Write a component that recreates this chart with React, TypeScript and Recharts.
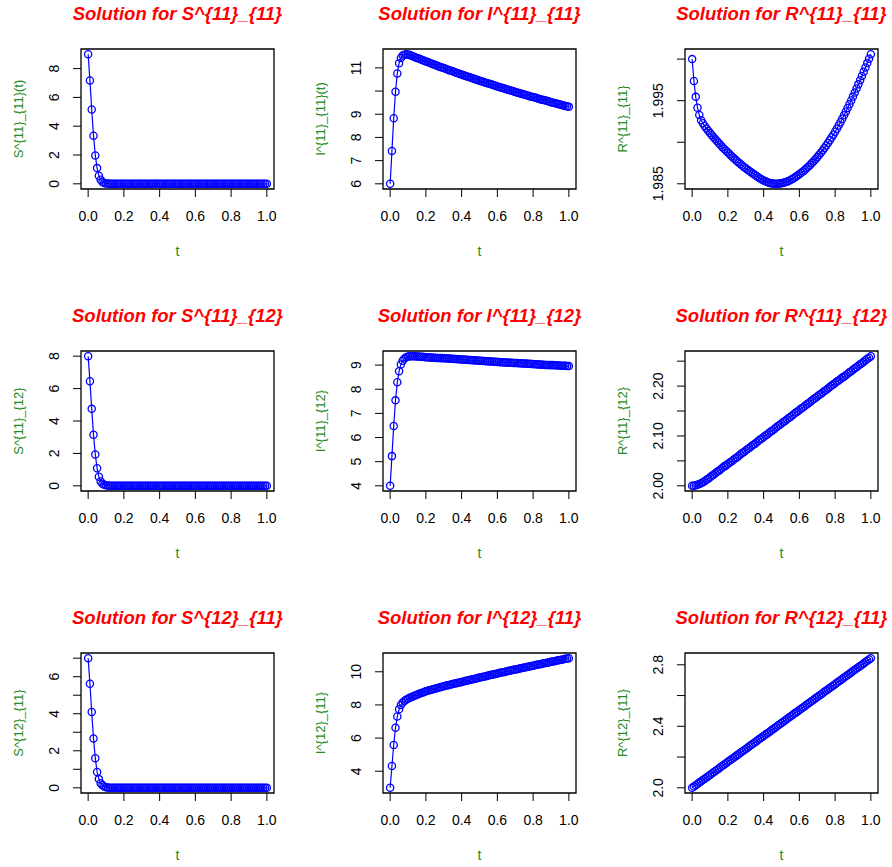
import React from "react";
import { LineChart, Line, XAxis, YAxis, ReferenceArea } from "recharts";

// time grid (step 0.01)
const T = [
  0, 0.01, 0.02, 0.03, 0.04, 0.05, 0.06, 0.07, 0.08, 0.09,
  0.1, 0.11, 0.12, 0.13, 0.14, 0.15, 0.16, 0.17, 0.18, 0.19,
  0.2, 0.21, 0.22, 0.23, 0.24, 0.25, 0.26, 0.27, 0.28, 0.29,
  0.3, 0.31, 0.32, 0.33, 0.34, 0.35, 0.36, 0.37, 0.38, 0.39,
  0.4, 0.41, 0.42, 0.43, 0.44, 0.45, 0.46, 0.47, 0.48, 0.49,
  0.5, 0.51, 0.52, 0.53, 0.54, 0.55, 0.56, 0.57, 0.58, 0.59,
  0.6, 0.61, 0.62, 0.63, 0.64, 0.65, 0.66, 0.67, 0.68, 0.69,
  0.7, 0.71, 0.72, 0.73, 0.74, 0.75, 0.76, 0.77, 0.78, 0.79,
  0.8, 0.81, 0.82, 0.83, 0.84, 0.85, 0.86, 0.87, 0.88, 0.89,
  0.9, 0.91, 0.92, 0.93, 0.94, 0.95, 0.96, 0.97, 0.98, 0.99,
  1,
];

const S11_11 = [
  9.0, 7.18, 5.16, 3.34, 1.97, 1.09, 0.56, 0.28, 0.13, 0.06,
  0.03, 0.015, 0.008, 0.004, 0.002, 0.001, 0.001, 0, 0, 0,
  0, 0, 0, 0, 0, 0, 0, 0, 0, 0,
  0, 0, 0, 0, 0, 0, 0, 0, 0, 0,
  0, 0, 0, 0, 0, 0, 0, 0, 0, 0,
  0, 0, 0, 0, 0, 0, 0, 0, 0, 0,
  0, 0, 0, 0, 0, 0, 0, 0, 0, 0,
  0, 0, 0, 0, 0, 0, 0, 0, 0, 0,
  0, 0, 0, 0, 0, 0, 0, 0, 0, 0,
  0, 0, 0, 0, 0, 0, 0, 0, 0, 0,
  0,
];

const I11_11 = [
  6.0, 7.42, 8.83, 9.97, 10.76, 11.2, 11.43, 11.53, 11.57, 11.59,
  11.58, 11.55, 11.52, 11.49, 11.46, 11.43, 11.4, 11.37, 11.34, 11.31,
  11.28, 11.25, 11.22, 11.19, 11.16, 11.13, 11.1, 11.07, 11.04, 11.02,
  10.99, 10.96, 10.93, 10.9, 10.88, 10.85, 10.82, 10.79, 10.77, 10.74,
  10.71, 10.68, 10.66, 10.63, 10.61, 10.58, 10.55, 10.53, 10.5, 10.48,
  10.45, 10.42, 10.4, 10.37, 10.35, 10.33, 10.3, 10.28, 10.25, 10.23,
  10.2, 10.18, 10.15, 10.13, 10.11, 10.08, 10.06, 10.04, 10.01, 9.99,
  9.96, 9.94, 9.92, 9.9, 9.87, 9.85, 9.83, 9.81, 9.78, 9.76,
  9.74, 9.72, 9.7, 9.67, 9.65, 9.63, 9.61, 9.59, 9.57, 9.55,
  9.52, 9.5, 9.48, 9.46, 9.44, 9.42, 9.4, 9.38, 9.36, 9.34,
  9.32,
];

const R11_11 = [
  2.0, 1.99737, 1.99546, 1.99415, 1.99328, 1.99264, 1.99228, 1.99195, 1.99165, 1.99137,
  1.9911, 1.99085, 1.9906, 1.99035, 1.99011, 1.98987, 1.98964, 1.98941, 1.98919, 1.98897,
  1.98876, 1.98855, 1.98834, 1.98814, 1.98794, 1.98775, 1.98756, 1.98738, 1.9872, 1.98703,
  1.98686, 1.9867, 1.98654, 1.98639, 1.98624, 1.98609, 1.98594, 1.98579, 1.98565, 1.98552,
  1.9854, 1.9853, 1.98521, 1.98514, 1.98508, 1.98504, 1.98501, 1.985, 1.98501, 1.98503,
  1.98507, 1.98512, 1.98518, 1.98526, 1.98535, 1.98545, 1.98557, 1.9857, 1.98584, 1.98599,
  1.98616, 1.98632, 1.98649, 1.98667, 1.98686, 1.98706, 1.98727, 1.98749, 1.98772, 1.98796,
  1.98821, 1.98847, 1.98874, 1.98902, 1.98931, 1.98961, 1.98992, 1.99024, 1.99057, 1.99091,
  1.99126, 1.99163, 1.99201, 1.99241, 1.99282, 1.99324, 1.99367, 1.99411, 1.99456, 1.99502,
  1.99549, 1.99597, 1.99646, 1.99696, 1.99746, 1.99797, 1.99848, 1.999, 1.99952, 2.00005,
  2.00059,
];

const S11_12 = [
  8.0, 6.45, 4.75, 3.15, 1.93, 1.08, 0.56, 0.27, 0.13, 0.06,
  0.03, 0.014, 0.007, 0.003, 0.002, 0.001, 0.001, 0, 0, 0,
  0, 0, 0, 0, 0, 0, 0, 0, 0, 0,
  0, 0, 0, 0, 0, 0, 0, 0, 0, 0,
  0, 0, 0, 0, 0, 0, 0, 0, 0, 0,
  0, 0, 0, 0, 0, 0, 0, 0, 0, 0,
  0, 0, 0, 0, 0, 0, 0, 0, 0, 0,
  0, 0, 0, 0, 0, 0, 0, 0, 0, 0,
  0, 0, 0, 0, 0, 0, 0, 0, 0, 0,
  0, 0, 0, 0, 0, 0, 0, 0, 0, 0,
  0,
];

const I11_12 = [
  4.0, 5.23, 6.48, 7.54, 8.29, 8.75, 9.03, 9.18, 9.27, 9.33,
  9.36, 9.37, 9.37, 9.37, 9.37, 9.36, 9.36, 9.35, 9.35, 9.34,
  9.33, 9.33, 9.32, 9.32, 9.31, 9.31, 9.3, 9.3, 9.29, 9.29,
  9.28, 9.28, 9.27, 9.27, 9.26, 9.26, 9.25, 9.25, 9.24, 9.24,
  9.23, 9.23, 9.22, 9.22, 9.21, 9.21, 9.2, 9.2, 9.19, 9.19,
  9.18, 9.18, 9.17, 9.17, 9.16, 9.16, 9.15, 9.15, 9.14, 9.14,
  9.13, 9.13, 9.12, 9.12, 9.11, 9.11, 9.11, 9.1, 9.1, 9.09,
  9.09, 9.09, 9.08, 9.08, 9.07, 9.07, 9.07, 9.06, 9.06, 9.05,
  9.05, 9.04, 9.04, 9.03, 9.03, 9.02, 9.02, 9.01, 9.01, 9.0,
  9.0, 9.0, 8.99, 8.99, 8.98, 8.98, 8.97, 8.97, 8.97, 8.96,
  8.96,
];

const R11_12 = [
  2.0, 2.0003, 2.001, 2.002, 2.0035, 2.005, 2.007, 2.009, 2.012, 2.014,
  2.017, 2.02, 2.022, 2.025, 2.028, 2.03, 2.033, 2.036, 2.039, 2.041,
  2.044, 2.047, 2.049, 2.052, 2.055, 2.057, 2.06, 2.063, 2.066, 2.068,
  2.071, 2.074, 2.076, 2.079, 2.082, 2.084, 2.087, 2.09, 2.093, 2.095,
  2.098, 2.101, 2.103, 2.106, 2.109, 2.111, 2.114, 2.117, 2.12, 2.122,
  2.125, 2.128, 2.13, 2.133, 2.136, 2.138, 2.141, 2.144, 2.147, 2.149,
  2.152, 2.155, 2.157, 2.16, 2.163, 2.165, 2.168, 2.171, 2.174, 2.176,
  2.179, 2.182, 2.184, 2.187, 2.19, 2.192, 2.195, 2.198, 2.201, 2.203,
  2.206, 2.209, 2.211, 2.214, 2.217, 2.219, 2.222, 2.225, 2.228, 2.23,
  2.233, 2.236, 2.238, 2.241, 2.244, 2.246, 2.249, 2.252, 2.255, 2.257,
  2.26,
];

const S12_11 = [
  7.0, 5.62, 4.09, 2.66, 1.6, 0.86, 0.47, 0.25, 0.14, 0.07,
  0.035, 0.017, 0.008, 0.004, 0.002, 0.001, 0.001, 0, 0, 0,
  0, 0, 0, 0, 0, 0, 0, 0, 0, 0,
  0, 0, 0, 0, 0, 0, 0, 0, 0, 0,
  0, 0, 0, 0, 0, 0, 0, 0, 0, 0,
  0, 0, 0, 0, 0, 0, 0, 0, 0, 0,
  0, 0, 0, 0, 0, 0, 0, 0, 0, 0,
  0, 0, 0, 0, 0, 0, 0, 0, 0, 0,
  0, 0, 0, 0, 0, 0, 0, 0, 0, 0,
  0, 0, 0, 0, 0, 0, 0, 0, 0, 0,
  0,
];

const I12_11 = [
  3.0, 4.32, 5.58, 6.62, 7.3, 7.74, 8.0, 8.14, 8.24, 8.32,
  8.38, 8.43, 8.48, 8.53, 8.57, 8.62, 8.66, 8.7, 8.74, 8.78,
  8.82, 8.85, 8.89, 8.92, 8.95, 8.98, 9.01, 9.04, 9.07, 9.1,
  9.13, 9.16, 9.18, 9.21, 9.23, 9.26, 9.29, 9.31, 9.34, 9.36,
  9.39, 9.42, 9.44, 9.47, 9.49, 9.52, 9.55, 9.57, 9.6, 9.62,
  9.65, 9.67, 9.7, 9.72, 9.75, 9.77, 9.8, 9.82, 9.85, 9.87,
  9.9, 9.92, 9.95, 9.97, 9.99, 10.02, 10.04, 10.07, 10.09, 10.12,
  10.14, 10.16, 10.19, 10.21, 10.23, 10.26, 10.28, 10.3, 10.32, 10.35,
  10.37, 10.39, 10.42, 10.44, 10.46, 10.49, 10.51, 10.53, 10.55, 10.58,
  10.6, 10.62, 10.64, 10.67, 10.69, 10.71, 10.73, 10.76, 10.78, 10.8,
  10.82,
];

const R12_11 = [
  2.0, 2.008, 2.017, 2.025, 2.034, 2.042, 2.051, 2.059, 2.067, 2.076,
  2.084, 2.093, 2.101, 2.11, 2.118, 2.126, 2.135, 2.143, 2.152, 2.16,
  2.169, 2.177, 2.185, 2.194, 2.202, 2.211, 2.219, 2.228, 2.236, 2.244,
  2.253, 2.261, 2.27, 2.278, 2.287, 2.295, 2.303, 2.312, 2.32, 2.329,
  2.337, 2.346, 2.354, 2.362, 2.371, 2.379, 2.388, 2.396, 2.405, 2.413,
  2.422, 2.43, 2.438, 2.447, 2.455, 2.464, 2.472, 2.481, 2.489, 2.497,
  2.506, 2.514, 2.523, 2.531, 2.54, 2.548, 2.556, 2.565, 2.573, 2.582,
  2.59, 2.599, 2.607, 2.615, 2.624, 2.632, 2.641, 2.649, 2.658, 2.666,
  2.674, 2.683, 2.691, 2.7, 2.708, 2.717, 2.725, 2.733, 2.742, 2.75,
  2.759, 2.767, 2.776, 2.784, 2.792, 2.801, 2.809, 2.818, 2.826, 2.835,
  2.843,
];

const X_TICKS = [0, 0.2, 0.4, 0.6, 0.8, 1.0];

// panel geometry (px): plot box 193 x 140 inside each chart
const ML = 80;
const MT = 50;
const MR = 10;
const XH = 75;
const BW = 193;
const BH = 140;
const PW = ML + BW + MR;
const PH = MT + BH + XH;
const FONT = "'Liberation Sans', Arial, Helvetica, sans-serif";
const GREEN = "#228B22";

const panels = [
  { title: "Solution for S^{11}_{11}", ylab: "S^{11}_{11}(t)", y: S11_11, dom: [-0.36, 9.36], ticks: [0, 2, 4, 6, 8], labels: ["0", "2", "4", "6", "8"] },
  { title: "Solution for I^{11}_{11}", ylab: "I^{11}_{11}(t)", y: I11_11, dom: [5.776, 11.814], ticks: [6, 7, 8, 9, 10, 11], labels: ["6", "7", "8", "9", "", "11"] },
  { title: "Solution for R^{11}_{11}", ylab: "R^{11}_{11}", y: R11_11, dom: [1.984376, 2.001214], ticks: [1.985, 1.99, 1.995, 2.0], labels: ["1.985", "", "1.995", ""] },
  { title: "Solution for S^{11}_{12}", ylab: "S^{11}_{12}", y: S11_12, dom: [-0.32, 8.32], ticks: [0, 2, 4, 6, 8], labels: ["0", "2", "4", "6", "8"] },
  { title: "Solution for I^{11}_{12}", ylab: "I^{11}_{12}", y: I11_12, dom: [3.785, 9.585], ticks: [4, 5, 6, 7, 8, 9], labels: ["4", "5", "6", "7", "8", "9"] },
  { title: "Solution for R^{11}_{12}", ylab: "R^{11}_{12}", y: R11_12, dom: [1.9896, 2.2704], ticks: [2.0, 2.05, 2.1, 2.15, 2.2, 2.25], labels: ["2.00", "", "2.10", "", "2.20", ""] },
  { title: "Solution for S^{12}_{11}", ylab: "S^{12}_{11}", y: S12_11, dom: [-0.28, 7.28], ticks: [0, 1, 2, 3, 4, 5, 6, 7], labels: ["0", "", "2", "", "4", "", "6", ""] },
  { title: "Solution for I^{12}_{11}", ylab: "I^{12}_{11}", y: I12_11, dom: [2.687, 11.133], ticks: [4, 6, 8, 10], labels: ["4", "6", "8", "10"] },
  { title: "Solution for R^{12}_{11}", ylab: "R^{12}_{11}", y: R12_11, dom: [1.9663, 2.8767], ticks: [2.0, 2.2, 2.4, 2.6, 2.8], labels: ["2.0", "", "2.4", "", "2.8"] },
];

const YTick = (props: any) => {
  const { y, payload, ticks, labels } = props;
  const i = ticks.findIndex((t: number) => Math.abs(t - payload.value) < 1e-9);
  const text = i >= 0 ? labels[i] : "";
  return (
    <text
      transform={`translate(${ML - 22.4},${y}) rotate(-90)`}
      textAnchor="middle"
      fontSize={14}
      fontFamily={FONT}
      fill="#000"
    >
      {text}
    </text>
  );
};

function Panel({ p, left, top }: { p: any; left: number; top: number }) {
  const data = T.map((t, i) => ({ t, v: p.y[i] }));
  return (
    <div style={{ position: "absolute", left, top, width: PW, height: PH }}>
      <LineChart width={PW} height={PH} data={data} margin={{ top: MT, right: MR, bottom: 0, left: 0 }}>
        <XAxis
          type="number"
          dataKey="t"
          domain={[-0.04, 1.04]}
          ticks={X_TICKS}
          allowDataOverflow
          height={XH}
          axisLine={false}
          stroke="#000"
          tickSize={8}
          tickMargin={14}
          tickFormatter={(v: number) => v.toFixed(1)}
          tick={{ fill: "#000", fontSize: 14, fontFamily: FONT }}
          interval={0}
        />
        <YAxis
          type="number"
          domain={p.dom}
          ticks={p.ticks}
          allowDataOverflow
          width={ML}
          axisLine={false}
          stroke="#000"
          tickSize={8}
          interval={0}
          tick={(tp: any) => <YTick {...tp} ticks={p.ticks} labels={p.labels} />}
        />
        <ReferenceArea
          x1={-0.04}
          x2={1.04}
          y1={p.dom[0]}
          y2={p.dom[1]}
          fill="none"
          fillOpacity={0}
          stroke="#000"
          strokeWidth={1.3}
          ifOverflow="visible"
        />
        <Line
          type="linear"
          dataKey="v"
          stroke="#0000FF"
          strokeWidth={1.2}
          dot={{ r: 3.6, fill: "none", stroke: "#0000FF", strokeWidth: 1.3 }}
          isAnimationActive={false}
        />
      </LineChart>
      <svg width={PW} height={PH} style={{ position: "absolute", left: 0, top: 0, pointerEvents: "none" }}>
        <text x={ML + BW / 2} y={MT - 29} textAnchor="middle" fontSize={18.5} fontWeight="bold" fontStyle="italic" fontFamily={FONT} fill="#FF0000">
          {p.title}
        </text>
        <text transform={`translate(${ML - 58},${MT + BH / 2}) rotate(-90)`} textAnchor="middle" fontSize={13} fontFamily={FONT} fill={GREEN}>
          {p.ylab}
        </text>
        <text x={ML + BW / 2} y={MT + BH + 67} textAnchor="middle" fontSize={14} fontFamily={FONT} fill={GREEN}>
          t
        </text>
      </svg>
    </div>
  );
}

export default function App() {
  return (
    <div style={{ position: "absolute", left: 0, top: 0, width: 892, height: 867, background: "#fff", overflow: "hidden" }}>
      {panels.map((p, i) => {
        const c = i % 3;
        const r = Math.floor(i / 3);
        return <Panel key={i} p={p} left={81 + 302 * c - ML} top={49 + 302 * r - MT} />;
      })}
    </div>
  );
}
